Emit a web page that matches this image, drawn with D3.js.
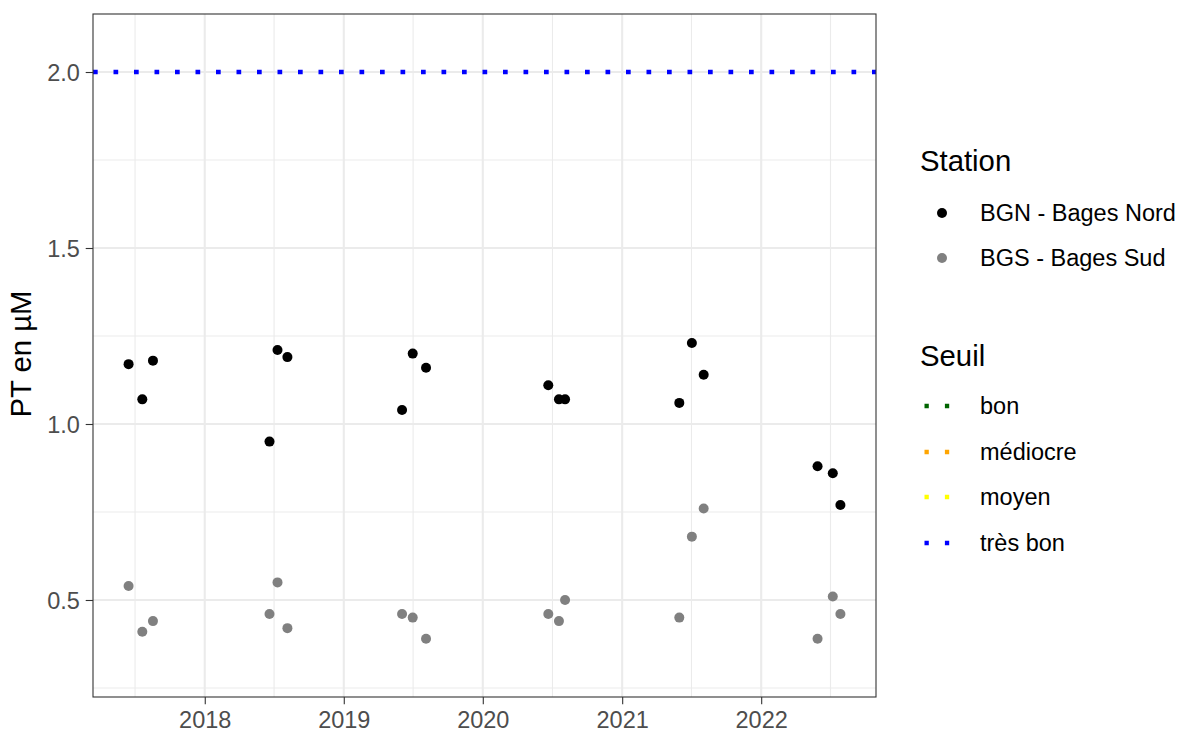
<!DOCTYPE html>
<html>
<head>
<meta charset="utf-8">
<script src="https://cdn.jsdelivr.net/npm/d3@7"></script>
<style>
  body { margin: 0; background: #ffffff; }
  svg { display: block; font-family: Arial, "Liberation Sans", sans-serif; }
</style>
</head>
<body>
<svg id="chart" width="1181" height="733"></svg>
<script>
// Sampling dates (one campaign each summer, June / July / August)
const dates = [
  "2017-06-15", "2017-07-21", "2017-08-18",
  "2018-06-20", "2018-07-11", "2018-08-06",
  "2019-06-03", "2019-07-01", "2019-08-05",
  "2020-06-21", "2020-07-19", "2020-08-04",
  "2021-05-31", "2021-07-03", "2021-08-03",
  "2022-05-29", "2022-07-08", "2022-07-28"
];
// Total phosphorus (µM) per station
const bgnValues = [1.17, 1.07, 1.18, 0.95, 1.21, 1.19, 1.04, 1.20, 1.16, 1.11, 1.07, 1.07, 1.06, 1.23, 1.14, 0.88, 0.86, 0.77];
const bgsValues = [0.54, 0.41, 0.44, 0.46, 0.55, 0.42, 0.46, 0.45, 0.39, 0.46, 0.44, 0.50, 0.45, 0.68, 0.76, 0.39, 0.51, 0.46];
const stations = ["BGN - Bages Nord", "BGS - Bages Sud"];
const stationColors = ["#000000", "#808080"];
// Quality thresholds
const seuilNames = ["bon", "médiocre", "moyen", "très bon"];
const seuilColors = ["#006400", "#FFA500", "#FFFF00", "#0000FF"];
const seuilValues = [null, null, null, 2.0];
// Axis ticks
const yTicks = [0.5, 1.0, 1.5, 2.0];
const yMinor = [0.25, 0.75, 1.25, 1.75];
const xTickYears = [2018, 2019, 2020, 2021, 2022];
const xMinorDates = ["2017-07-02", "2018-07-02", "2019-07-02", "2020-07-02", "2021-07-02", "2022-07-02"];

const parse = d3.timeParse("%Y-%m-%d");
const points = [];
dates.forEach((d, i) => {
  points.push({ date: parse(d), value: bgnValues[i], station: 0 });
  points.push({ date: parse(d), value: bgsValues[i], station: 1 });
});
// BGS drawn first so BGN sits on top
points.sort((a, b) => b.station - a.station);

const panel = { left: 93, right: 876, top: 14, bottom: 697 };
const svg = d3.select("#chart");

const tExtent = d3.extent(dates.map(parse));
const span = tExtent[1] - tExtent[0];
const x = d3.scaleTime()
  .domain([new Date(+tExtent[0] - span * 0.05), new Date(+tExtent[1] + span * 0.05)])
  .range([panel.left, panel.right]);
const y = d3.scaleLinear()
  .domain([0.2244, 2.1648])
  .range([panel.bottom, panel.top]);

const dotDash = "4.7 15.8";

// Panel background and grid
svg.append("rect")
  .attr("x", panel.left).attr("y", panel.top)
  .attr("width", panel.right - panel.left).attr("height", panel.bottom - panel.top)
  .attr("fill", "#ffffff");

const grid = svg.append("g");
grid.selectAll("line.ymin").data(yMinor).join("line")
  .attr("x1", panel.left).attr("x2", panel.right)
  .attr("y1", d => y(d)).attr("y2", d => y(d))
  .attr("stroke", "#EBEBEB").attr("stroke-width", 1.1);
grid.selectAll("line.xmin").data(xMinorDates.map(parse)).join("line")
  .attr("y1", panel.top).attr("y2", panel.bottom)
  .attr("x1", d => x(d)).attr("x2", d => x(d))
  .attr("stroke", "#EBEBEB").attr("stroke-width", 1.1);
grid.selectAll("line.ymaj").data(yTicks).join("line")
  .attr("x1", panel.left).attr("x2", panel.right)
  .attr("y1", d => y(d)).attr("y2", d => y(d))
  .attr("stroke", "#EBEBEB").attr("stroke-width", 2.1);
grid.selectAll("line.xmaj").data(xTickYears.map(yr => new Date(yr, 0, 1))).join("line")
  .attr("y1", panel.top).attr("y2", panel.bottom)
  .attr("x1", d => x(d)).attr("x2", d => x(d))
  .attr("stroke", "#EBEBEB").attr("stroke-width", 2.1);

// Threshold lines
const seuilData = seuilNames.map((n, i) => ({ name: n, color: seuilColors[i], value: seuilValues[i] }))
  .filter(d => d.value !== null);
svg.append("g").selectAll("line").data(seuilData).join("line")
  .attr("x1", panel.left).attr("x2", panel.right)
  .attr("y1", d => y(d.value)).attr("y2", d => y(d.value))
  .attr("stroke", d => d.color).attr("stroke-width", 4.7)
  .attr("stroke-dasharray", dotDash);

// Points
svg.append("g").selectAll("circle").data(points).join("circle")
  .attr("cx", d => x(d.date)).attr("cy", d => y(d.value))
  .attr("r", 5)
  .attr("fill", d => stationColors[d.station]);

// Panel border
svg.append("rect")
  .attr("x", panel.left).attr("y", panel.top)
  .attr("width", panel.right - panel.left).attr("height", panel.bottom - panel.top)
  .attr("fill", "none").attr("stroke", "#333333").attr("stroke-width", 1.1);

// Axes
const xAxis = d3.axisBottom(x)
  .tickValues(xTickYears.map(yr => new Date(yr, 0, 1)))
  .tickFormat(d3.timeFormat("%Y"))
  .tickSize(7.3).tickPadding(5.9);
const gx = svg.append("g").attr("transform", `translate(0,${panel.bottom})`).call(xAxis);
const yAxis = d3.axisLeft(y)
  .tickValues(yTicks)
  .tickFormat(d3.format(".1f"))
  .tickSize(7.3).tickPadding(5.9);
const gy = svg.append("g").attr("transform", `translate(${panel.left},0)`).call(yAxis);
[gx, gy].forEach(g => {
  g.select(".domain").remove();
  g.selectAll(".tick line").attr("stroke", "#333333").attr("stroke-width", 1.1);
  g.selectAll(".tick text").attr("fill", "#4D4D4D")
    .style("font-size", "23.5px").style("font-family", "Arial, 'Liberation Sans', sans-serif");
});
gx.selectAll(".tick text").attr("dy", "0.74em");
gy.selectAll(".tick text").attr("dy", "0.36em");

// Y axis title
svg.append("text")
  .attr("transform", `translate(31,${(panel.top + panel.bottom) / 2 - 1.5}) rotate(-90)`)
  .attr("text-anchor", "middle")
  .style("font-size", "29.3px").attr("fill", "#000")
  .text("PT en µM");

// Legend: Station
const legX = 920, keyX = 942, labX = 980;
svg.append("text").attr("x", legX).attr("y", 160).attr("dy", "0.36em")
  .style("font-size", "29.3px").text("Station");
const stationRows = [213, 258];
stations.forEach((s, i) => {
  svg.append("circle").attr("cx", keyX).attr("cy", stationRows[i]).attr("r", 5)
    .attr("fill", stationColors[i]);
  svg.append("text").attr("x", labX).attr("y", stationRows[i]).attr("dy", "0.36em")
    .style("font-size", "23.5px").text(s);
});

// Legend: Seuil
svg.append("text").attr("x", legX).attr("y", 355).attr("dy", "0.36em")
  .style("font-size", "29.3px").text("Seuil");
const seuilRows = [406, 452, 497, 543];
seuilNames.forEach((s, i) => {
  svg.append("line").attr("x1", 924.5).attr("x2", 962)
    .attr("y1", seuilRows[i]).attr("y2", seuilRows[i])
    .attr("stroke", seuilColors[i]).attr("stroke-width", 4.3)
    .attr("stroke-dasharray", "4.3 16.1");
  svg.append("text").attr("x", labX).attr("y", seuilRows[i]).attr("dy", "0.36em")
    .style("font-size", "23.5px").text(s);
});
</script>
</body>
</html>
